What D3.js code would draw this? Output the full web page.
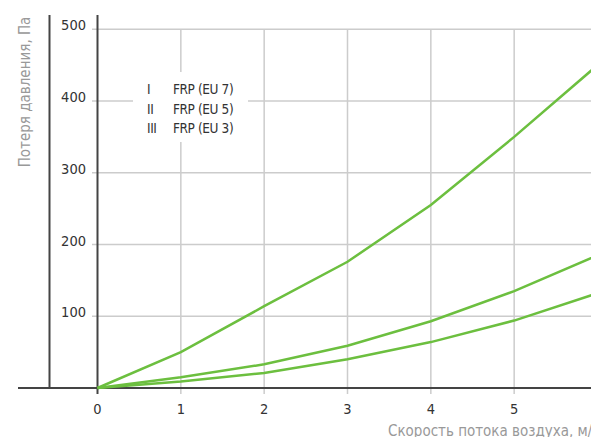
<!DOCTYPE html>
<html>
<head>
<meta charset="utf-8">
<script src="https://cdn.jsdelivr.net/npm/d3@7"></script>
<style>
  body { margin: 0; background: #fff; }
  svg text { font-family: "Liberation Sans Narrow", "DejaVu Sans Condensed", "Roboto", sans-serif; font-stretch: condensed; }
  .tick-label { fill: #333; font-size: 14.5px; }
  .axis-label { fill: #999; font-size: 15px; }
  .legend-text { fill: #333; font-size: 13.5px; letter-spacing: -0.4px; }
</style>
</head>
<body>
<div id="chart"></div>
<script>
// data
const speeds = [0, 1, 2, 3, 4, 5, 6];
const eu7 = [0, 50, 114, 176, 255, 350, 450];
const eu5 = [0, 15, 33, 59, 93, 135, 185];
const eu3 = [0, 9, 21, 40, 64, 94, 132];
const seriesNames = ['I', 'II', 'III'];
const seriesLabels = ['FRP (EU 7)', 'FRP (EU 5)', 'FRP (EU 3)'];
const xTicks = [0, 1, 2, 3, 4, 5];
const yTicks = [100, 200, 300, 400, 500];

const width = 591, height = 437;
const lineColor = '#6cbf3f';

const svg = d3.select('#chart').append('svg')
    .attr('width', width)
    .attr('height', height);

const x = d3.scaleLinear().domain([0, 6]).range([97.5, 597.5]);
const y = d3.scaleLinear().domain([0, 500]).range([388, 29.3]);

// grid
svg.selectAll('.hgrid').data(yTicks).enter().append('line')
  .attr('x1', 92).attr('x2', width)
  .attr('y1', d => y(d)).attr('y2', d => y(d))
  .attr('stroke', '#ccc').attr('stroke-width', 1.5);

svg.selectAll('.vgrid').data(xTicks.slice(1)).enter().append('line')
  .attr('x1', d => x(d)).attr('x2', d => x(d))
  .attr('y1', y(500)).attr('y2', y(0) + 6)
  .attr('stroke', '#ccc').attr('stroke-width', 1.5);

// axes lines
svg.append('line')
  .attr('x1', 18).attr('x2', width)
  .attr('y1', y(0)).attr('y2', y(0))
  .attr('stroke', '#444').attr('stroke-width', 2);
svg.append('line')
  .attr('x1', x(0)).attr('x2', x(0))
  .attr('y1', 15).attr('y2', y(0) + 6)
  .attr('stroke', '#444').attr('stroke-width', 2);
svg.append('line')
  .attr('x1', 49.5).attr('x2', 49.5)
  .attr('y1', 15).attr('y2', y(0))
  .attr('stroke', '#444').attr('stroke-width', 2);

// tick labels
svg.selectAll('.ylab').data(yTicks).enter().append('text')
  .attr('class', 'tick-label')
  .attr('text-anchor', 'end')
  .attr('x', 86)
  .attr('y', d => y(d) + 1)
  .text(d => d);

svg.selectAll('.xlab').data(xTicks).enter().append('text')
  .attr('class', 'tick-label')
  .attr('text-anchor', 'middle')
  .attr('x', d => x(d))
  .attr('y', 414)
  .text(d => d);

// axis titles
svg.append('text')
  .attr('class', 'axis-label')
  .attr('text-anchor', 'middle')
  .attr('transform', 'translate(30, 92) rotate(-90)')
  .text('Потеря давления, Па');

svg.append('text')
  .attr('class', 'axis-label')
  .attr('x', 388)
  .attr('y', 436)
  .text('Скорость потока воздуха, м/с');

// lines
const line = d3.line().x((d, i) => x(speeds[i])).y(d => y(d));
[eu7, eu5, eu3].forEach(s => {
  svg.append('path')
    .attr('d', line(s))
    .attr('fill', 'none')
    .attr('stroke', lineColor)
    .attr('stroke-width', 2.5);
});

// legend
svg.append('rect')
  .attr('x', 133).attr('y', 72)
  .attr('width', 115).attr('height', 70)
  .attr('fill', '#fff');

seriesNames.forEach((n, i) => {
  svg.append('text')
    .attr('class', 'legend-text')
    .attr('x', 147).attr('y', 94 + i * 19.5)
    .text(n);
  svg.append('text')
    .attr('class', 'legend-text')
    .attr('x', 173).attr('y', 94 + i * 19.5)
    .text(seriesLabels[i]);
});
</script>
</body>
</html>
